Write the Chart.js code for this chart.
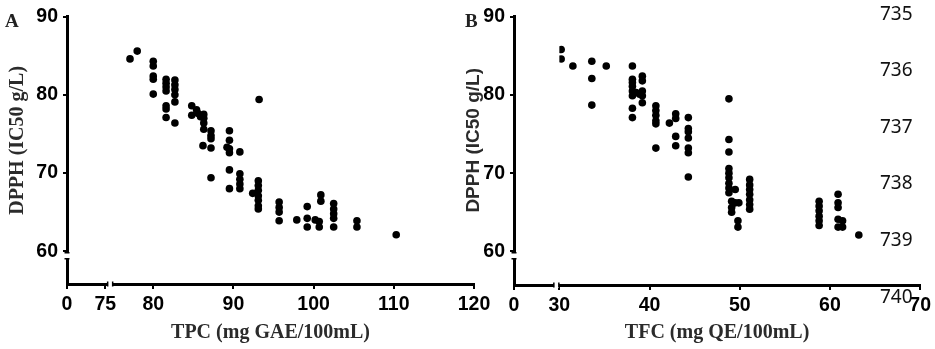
<!DOCTYPE html>
<html>
<head>
<meta charset="utf-8">
<script src="https://cdn.jsdelivr.net/npm/chart.js@4/dist/chart.umd.min.js"></script>
<style>
  body { margin: 0; background: #fff; }
  #wrap { position: relative; width: 935px; height: 349px; overflow: hidden; background: #fff; }
  canvas { position: absolute; top: 0; }
  .panel { position: absolute; font-family: 'Liberation Serif'; font-weight: bold; font-size: 19px; line-height: 1; color: #222; }
  .ln { position: absolute; left: 880px; font-family: 'Noto Sans'; font-size: 19px; line-height: 20px; color: #111; }
</style>
</head>
<body>
<div id="wrap">
  <canvas id="chartA" width="500" height="349" style="left:0"></canvas>
  <canvas id="chartB" width="475" height="349" style="left:460px"></canvas>
  <div class="panel" style="left:5px;top:11px">A</div>
  <div class="panel" style="left:465px;top:11px">B</div>
  <div class="ln" style="top:3px">735</div>
  <div class="ln" style="top:59px">736</div>
  <div class="ln" style="top:116px">737</div>
  <div class="ln" style="top:172px">738</div>
  <div class="ln" style="top:229px">739</div>
  <div class="ln" style="top:286px">740</div>
</div>
<script>
// Panel A : TPC vs DPPH
const tpc = [
  77.1, 78.0,
  80.0, 80.0, 80.0, 80.0, 80.0,
  81.6, 81.6, 81.6, 81.6, 81.6, 81.6, 81.6,
  82.7, 82.7, 82.7, 82.7, 82.7, 82.7,
  84.8, 84.8, 85.4, 85.6, 85.9,
  86.3, 86.3, 86.3, 86.3, 86.2,
  87.2, 87.2, 87.2, 87.2, 87.2,
  89.5, 89.5, 89.5, 89.5, 89.5, 89.5, 89.2,
  90.8, 90.8, 90.8, 90.8, 90.8,
  93.2, 92.4,
  93.1, 93.1, 93.1, 93.1, 93.1, 93.1, 93.1,
  95.7, 95.7, 95.7, 95.7,
  97.9, 99.2, 99.2, 99.2, 100.2, 100.7, 100.7, 100.9, 100.9,
  102.5, 102.5, 102.5, 102.5, 102.5,
  105.4, 105.4, 110.3
];
const dpphA = [
  84.6, 85.6,
  84.3, 83.7, 82.4, 82.0, 80.1,
  82.0, 81.5, 81.0, 80.5, 78.6, 78.2, 77.1,
  81.9, 81.3, 80.7, 80.0, 79.1, 76.4,
  78.6, 77.4, 78.1, 77.6, 77.2,
  77.5, 77.0, 76.4, 75.6, 73.5,
  75.4, 74.8, 74.4, 73.2, 69.4,
  75.4, 74.2, 73.1, 72.6, 70.4, 68.0, 73.3,
  72.7, 69.9, 69.2, 68.6, 68.0,
  79.4, 67.4,
  69.0, 68.4, 67.8, 67.1, 66.5, 65.8, 65.4,
  66.3, 65.6, 65.0, 63.9,
  64.0, 65.7, 64.2, 63.1, 64.0, 63.8, 63.1, 67.2, 66.4,
  66.1, 65.4, 64.8, 64.2, 63.1,
  63.9, 63.1, 62.1
];

// Panel B : TFC vs DPPH
const tfc = [
  30.2, 30.2, 31.5, 33.6, 33.6, 33.6, 35.2,
  38.1, 38.1, 38.1, 38.1, 38.1, 38.1, 38.1, 38.1, 38.5, 38.9,
  39.2, 39.2, 39.2, 39.2, 39.2,
  40.7, 40.7, 40.7, 40.7, 40.7, 40.7,
  42.2, 42.9, 42.9, 42.9, 42.9,
  44.3, 44.3, 44.3, 44.3, 44.3, 44.3, 44.3,
  48.8, 48.8, 48.8, 48.8, 48.8, 48.8, 48.8, 48.8, 48.8,
  49.5, 49.5, 49.1, 49.1, 49.1, 49.9, 49.8, 49.8,
  51.1, 51.1, 51.1, 51.1, 51.1, 51.1, 51.1,
  58.8, 58.8, 58.8, 58.8, 58.8, 58.8,
  60.9, 60.9, 60.9, 60.9, 60.9,
  61.4, 61.4, 63.2
];
const dpphB = [
  85.8, 84.6, 83.7, 84.3, 82.1, 78.7, 83.7,
  83.7, 82.0, 81.6, 81.1, 80.5, 79.9, 78.3, 77.1, 80.3, 80.1,
  82.4, 81.8, 80.5, 79.9, 79.0,
  78.6, 78.0, 77.4, 76.7, 76.3, 73.2,
  76.4, 77.6, 77.0, 74.7, 73.5,
  77.1, 75.7, 75.3, 74.5, 73.2, 72.6, 69.5,
  79.5, 74.3, 72.7, 70.6, 70.0, 69.4, 68.7, 68.1, 67.5,
  67.9, 66.2, 66.4, 65.6, 65.0, 66.2, 63.9, 63.1,
  69.2, 68.5, 67.9, 67.3, 66.6, 66.0, 65.4,
  66.4, 65.8, 65.2, 64.5, 63.9, 63.3,
  67.3, 66.2, 65.6, 64.1, 63.1,
  63.9, 63.1, 62.1
];

// tick labels
const dpphTicks = [60, 70, 80, 90];
const tpcTicksLow = [0, 75];
const tpcTicks = [80, 90, 100, 110, 120];
const tfcTicksLow = [0];
const tfcTicks = [30, 40, 50, 60, 70];

const tickFont = { family: 'Liberation Sans', weight: 'bold', size: 19.5 };
// leading spaces lift the rotated y title a bit above the middle of the axis, like the original
const yTitle = '\u00a0\u00a0\u00a0\u00a0DPPH (IC50 g/L)';

// draws the little gaps of the broken axes (white cut + end caps)
const axisBreaks = {
  id: 'axisBreaks',
  afterDraw(chart) {
    const ctx = chart.ctx;
    const low = chart.scales.xLow;
    const area = chart.chartArea;
    const gx0 = low.right - 5.5, gx1 = low.right - 0.5;
    const gy0 = chart.scales.y.getPixelForValue(60) + 1.5, gy1 = gy0 + 6;
    ctx.save();
    ctx.fillStyle = '#fff';
    ctx.fillRect(gx0, area.bottom - 3, gx1 - gx0, 6);
    ctx.fillRect(area.left - 3, gy0, 6, gy1 - gy0);
    ctx.strokeStyle = '#000';
    ctx.lineWidth = 1.5;
    ctx.beginPath();
    [gx0, gx1].forEach(g => { ctx.moveTo(g, area.bottom - 2.5); ctx.lineTo(g, area.bottom + 2.5); });
    [gy0, gy1].forEach(g => { ctx.moveTo(area.left - 2.5, g); ctx.lineTo(area.left + 2.5, g); });
    ctx.stroke();
    ctx.restore();
  }
};

function xScale(min, max, ticks, weight, height) {
  return {
    type: 'linear', position: 'bottom', stack: 'xs', stackWeight: weight,
    min: min, max: max,
    afterBuildTicks: s => { s.ticks = ticks.map(v => ({ value: v })); },
    afterFit: s => { s.height = height; },
    grid: { drawOnChartArea: false, drawTicks: true, tickLength: 5, lineWidth: 2, color: '#000' },
    border: { display: true, width: 3, color: '#000' },
    ticks: { color: '#000', font: tickFont, padding: 4, maxRotation: 0, autoSkip: false }
  };
}

function makePanel(id, xs, ys, p) {
  const points = xs.map((v, i) => ({ x: v, y: ys[i] }));
  return new Chart(document.getElementById(id), {
    type: 'scatter',
    data: {
      datasets: [{
        data: points,
        xAxisID: 'x', yAxisID: 'y',
        pointRadius: 3.8, pointBackgroundColor: '#000', pointBorderWidth: 0
      }]
    },
    options: {
      responsive: false,
      animation: false,
      layout: { padding: { left: 0, top: p.top, right: p.right, bottom: 4 } },
      scales: {
        xLow: xScale(0, p.lowMax, p.lowTicks, p.lowWeight, p.xHeight),
        x: xScale(p.xMin, p.xMax, p.xTicks, p.mainWeight, p.xHeight),
        y: {
          type: 'linear', position: 'left',
          min: p.yMin, max: 90,
          afterBuildTicks: s => { s.ticks = dpphTicks.map(v => ({ value: v })); },
          afterFit: s => { s.width = p.yWidth; },
          grid: { drawOnChartArea: false, drawTicks: true, tickLength: 4, lineWidth: 2, color: '#000' },
          border: { display: true, width: 3, color: '#000' },
          ticks: { color: '#000', font: tickFont, padding: 5 },
          title: { display: true, text: yTitle, color: '#2b2b2b', font: p.yTitleFont, padding: { top: p.yTitlePad, bottom: 0 } }
        }
      },
      plugins: {
        legend: { display: false },
        tooltip: { enabled: false },
        title: {
          display: true, text: p.xTitle, position: 'bottom', fullSize: false,
          color: '#2b2b2b', padding: 0,
          font: { family: 'Liberation Serif', weight: 'bold', size: 20 }
        }
      }
    },
    plugins: [axisBreaks]
  });
}

makePanel('chartA', tpc, dpphA, {
  top: 15, right: 26, yWidth: 67, yMin: 55.8, xHeight: 37,
  lowMax: 90.5, lowTicks: tpcTicksLow, lowWeight: 46.2,
  xMin: 75, xMax: 120, xTicks: tpcTicks, mainWeight: 361.1,
  xTitle: 'TPC (mg GAE/100mL)',
  yTitleFont: { family: 'Liberation Serif', weight: 'bold', size: 20 }, yTitlePad: 6
});

makePanel('chartB', tfc, dpphB, {
  top: 13, right: 13.5, yWidth: 54, yMin: 55.7, xHeight: 36,
  lowMax: 10, lowTicks: tfcTicksLow, lowWeight: 45.5,
  xMin: 30, xMax: 70, xTicks: tfcTicks, mainWeight: 362,
  xTitle: 'TFC (mg QE/100mL)',
  yTitleFont: { family: 'Liberation Sans', weight: 'bold', size: 19 }, yTitlePad: 2
});
</script>
</body>
</html>
